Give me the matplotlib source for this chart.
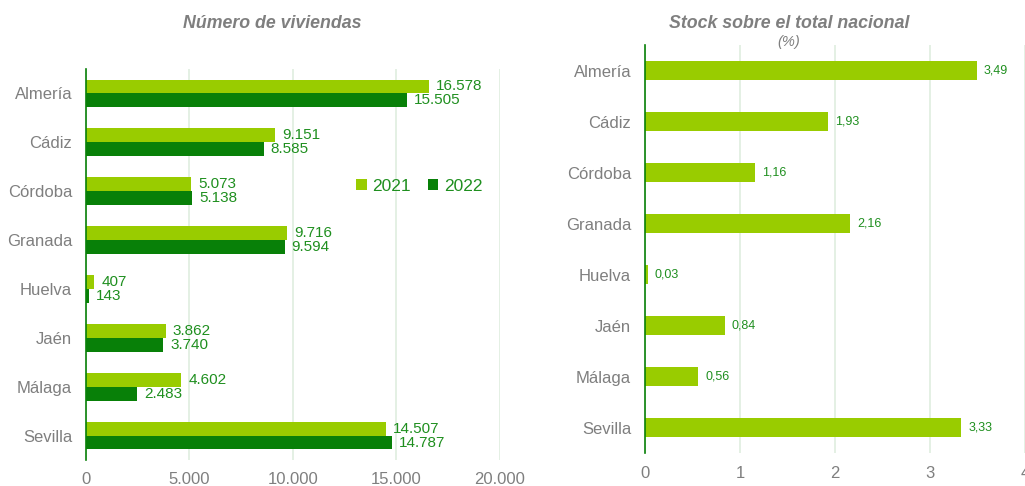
import matplotlib
matplotlib.use("Agg")
import matplotlib.pyplot as plt
import numpy as np

provincias = ["Almería", "Cádiz", "Córdoba", "Granada", "Huelva", "Jaén", "Málaga", "Sevilla"]
viviendas_2021 = [16578, 9151, 5073, 9716, 407, 3862, 4602, 14507]
viviendas_2022 = [15505, 8585, 5138, 9594, 143, 3740, 2483, 14787]
stock_pct = [3.49, 1.93, 1.16, 2.16, 0.03, 0.84, 0.56, 3.33]
ticks_viv = [0, 5000, 10000, 15000, 20000]
ticks_pct = [0, 1, 2, 3, 4]

VERDE_CLARO = "#99cc00"
VERDE_OSCURO = "#088008"
VERDE_TEXTO = "#1f8f1f"
GRIS = "#7f7f7f"
GRID = "#dfeedf"

plt.rcParams["font.family"] = ["Liberation Sans", "DejaVu Sans"]

fig = plt.figure(figsize=(10.25, 4.86), dpi=100)


def miles(v):
    return f"{v:,.0f}".replace(",", ".")


def estilo(ax):
    for s in ["top", "right", "bottom"]:
        ax.spines[s].set_visible(False)
    ax.spines["left"].set_color(VERDE_OSCURO)
    ax.spines["left"].set_linewidth(1.2)
    ax.tick_params(length=0, colors=GRIS, labelsize=12)
    ax.tick_params(axis="x", pad=9)
    ax.tick_params(axis="y", pad=10)
    ax.grid(axis="x", color=GRID, linewidth=1.2)
    ax.set_axisbelow(True)


# Grafico 1: numero de viviendas
ax1 = fig.add_axes([0.0839, 0.0535, 0.4039, 0.8045])
y = np.arange(len(provincias))
h = 0.285
b1 = ax1.barh(y - h / 2, viviendas_2021, height=h, color=VERDE_CLARO, label="2021")
b2 = ax1.barh(y + h / 2, viviendas_2022, height=h, color=VERDE_OSCURO, label="2022")
for barras, vals in [(b1, viviendas_2021), (b2, viviendas_2022)]:
    for barra, v in zip(barras, vals):
        ax1.annotate(miles(v), (v, barra.get_y() + barra.get_height() / 2),
                     xytext=(5, 0), textcoords="offset points",
                     va="center", ha="left", color=VERDE_TEXTO, fontsize=11)
ax1.set_xlim(0, 20000)
ax1.set_ylim(7.5, -0.5)
ax1.set_yticks(y)
ax1.set_yticklabels(provincias)
ax1.set_xticks(ticks_viv)
ax1.set_xticklabels([miles(t) for t in ticks_viv])
estilo(ax1)
leg = ax1.legend(loc="center", bbox_to_anchor=(0.805, 0.70), ncol=2, frameon=False,
                 fontsize=12.5, handlelength=0.6, handleheight=0.6,
                 handletextpad=0.3, columnspacing=1.0)
for t in leg.get_texts():
    t.set_color(VERDE_TEXTO)
fig.text(0.266, 0.951, "Número de viviendas", ha="center", va="center",
         fontsize=12.8, fontweight="bold", fontstyle="italic", color=GRIS)

# Grafico 2: stock sobre el total nacional
ax2 = fig.add_axes([0.6293, 0.0679, 0.3707, 0.8395])
b3 = ax2.barh(y, stock_pct, height=0.39, color=VERDE_CLARO)
for barra, v in zip(b3, stock_pct):
    ax2.annotate(f"{v:.2f}".replace(".", ","), (v, barra.get_y() + barra.get_height() / 2),
                 xytext=(5, 0), textcoords="offset points",
                 va="center", ha="left", color=VERDE_TEXTO, fontsize=9)
ax2.set_xlim(0, 4)
ax2.set_ylim(7.5, -0.5)
ax2.set_yticks(y)
ax2.set_yticklabels(provincias)
ax2.set_xticks(ticks_pct)
estilo(ax2)
fig.text(0.770, 0.951, "Stock sobre el total nacional", ha="center", va="center",
         fontsize=12.8, fontweight="bold", fontstyle="italic", color=GRIS)
fig.text(0.769, 0.913, "(%)", ha="center", va="center",
         fontsize=10.5, fontstyle="italic", color=GRIS)

fig.savefig("out.png", dpi=100)
